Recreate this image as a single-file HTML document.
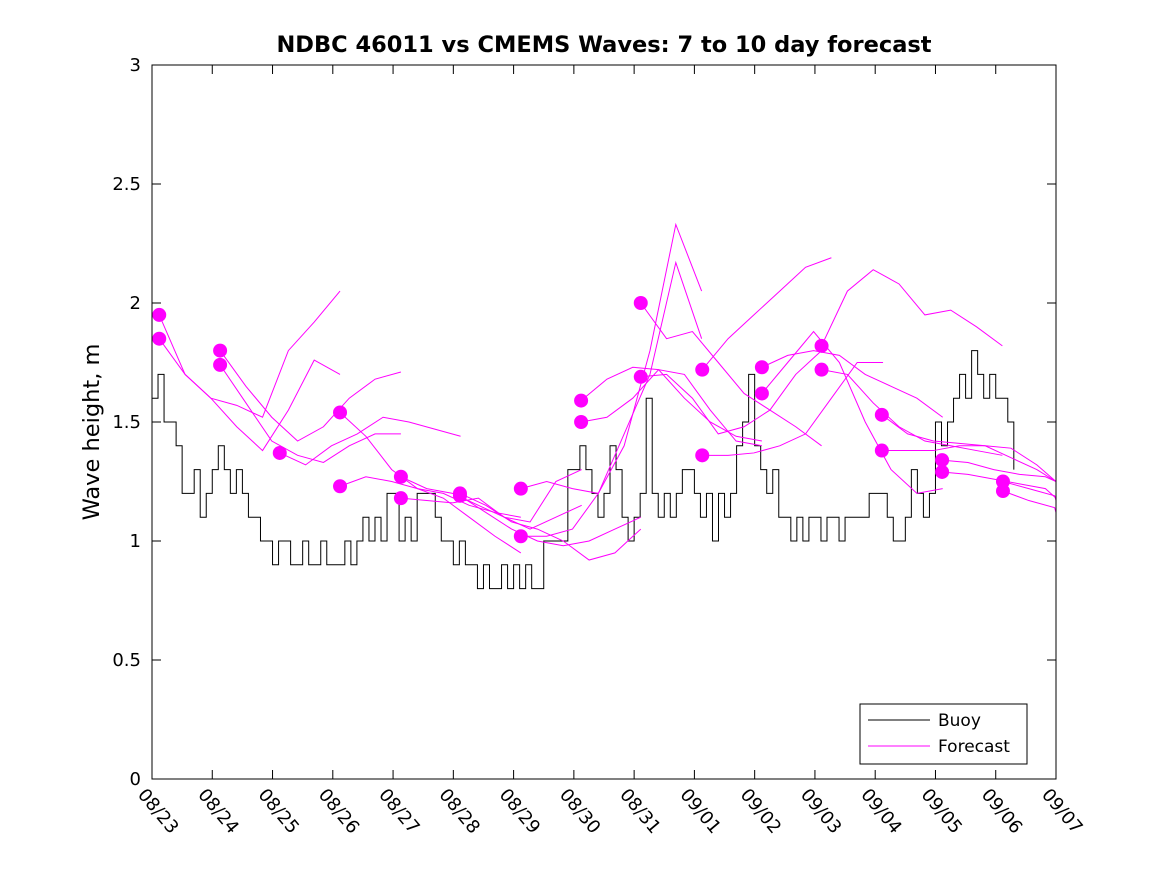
<!DOCTYPE html>
<html><head><meta charset="utf-8"><style>body{margin:0;background:#fff}svg{display:block;font-family:"DejaVu Sans","Liberation Sans",sans-serif}</style></head>
<body>
<svg id="chart" width="1167" height="875">
<rect width="1167" height="875" fill="#fff"/>
<text x="604" y="52" text-anchor="middle" font-size="22.5" font-weight="bold">NDBC 46011 vs CMEMS Waves: 7 to 10 day forecast</text>
<text transform="translate(99,432) rotate(-90)" text-anchor="middle" font-size="22.5">Wave height, m</text>
<g id="axes"></g>
<g id="marks"></g>
<rect x="152" y="65" width="904" height="714" fill="none" stroke="#000" stroke-width="1"/>
<g>
<rect x="860" y="704" width="167" height="60" fill="#fff" stroke="#000"/>
<line x1="868" y1="720" x2="930" y2="720" stroke="#000"/>
<text x="938" y="726" font-size="17">Buoy</text>
<line x1="868" y1="746" x2="930" y2="746" stroke="#f0f"/>
<text x="938" y="752" font-size="17">Forecast</text>
</g>
</svg>
<script>
const yTicks=[0,0.5,1,1.5,2,2.5,3];
const yTickLabels=["0","0.5","1","1.5","2","2.5","3"];
const xTickLabels=["08/23","08/24","08/25","08/26","08/27","08/28","08/29","08/30","08/31","09/01","09/02","09/03","09/04","09/05","09/06","09/07"];
const buoyStep=0.1;
const buoy=[1.6,1.7,1.5,1.5,1.4,1.2,1.2,1.3,1.1,1.2,
1.3,1.4,1.3,1.2,1.3,1.2,1.1,1.1,1.0,1.0,
0.9,1.0,1.0,0.9,0.9,1.0,0.9,0.9,1.0,0.9,
0.9,0.9,1.0,0.9,1.0,1.1,1.0,1.1,1.0,1.2,
1.2,1.0,1.1,1.0,1.2,1.2,1.2,1.1,1.0,1.0,
0.9,1.0,0.9,0.9,0.8,0.9,0.8,0.8,0.9,0.8,
0.9,0.8,0.9,0.8,0.8,1.0,1.0,1.0,1.0,1.3,
1.3,1.4,1.3,1.2,1.1,1.2,1.4,1.3,1.1,1.0,
1.1,1.2,1.6,1.2,1.1,1.2,1.1,1.2,1.3,1.3,
1.2,1.1,1.2,1.0,1.2,1.1,1.2,1.4,1.5,1.7,
1.4,1.3,1.2,1.3,1.1,1.1,1.0,1.1,1.0,1.1,
1.1,1.0,1.1,1.1,1.0,1.1,1.1,1.1,1.1,1.2,
1.2,1.2,1.1,1.0,1.0,1.1,1.3,1.2,1.1,1.2,
1.5,1.4,1.5,1.6,1.7,1.6,1.8,1.7,1.6,1.7,
1.6,1.6,1.5,1.3];
const fcStep=3/7;
const fcStart=[0.12,0.12,1.13,1.13,2.12,3.12,3.12,4.13,4.13,5.11,5.11,6.12,6.12,7.12,7.12,8.11,8.11,9.13,9.13,10.12,10.12,11.11,11.11,12.11,12.11,13.11,13.11,14.12,14.12];
const fcVals=[
[1.95,1.70,1.60,1.57,1.52,1.80,1.92,2.05],
[1.85,1.70,1.60,1.48,1.38,1.55,1.76,1.70],
[1.80,1.65,1.52,1.42,1.48,1.60,1.68,1.71],
[1.74,1.58,1.42,1.36,1.33,1.40,1.45,1.45],
[1.37,1.32,1.40,1.45,1.52,1.50,1.47,1.44],
[1.54,1.44,1.30,1.22,1.18,1.10,1.02,0.95],
[1.23,1.27,1.25,1.22,1.20,1.15,1.12,1.10],
[1.27,1.22,1.20,1.15,1.10,1.08,1.25,1.30],
[1.18,1.17,1.16,1.18,1.10,1.05,1.10,1.15],
[1.19,1.12,1.05,1.00,0.98,1.00,1.05,1.10],
[1.20,1.15,1.08,1.05,1.00,0.92,0.95,1.05],
[1.22,1.25,1.22,1.20,1.40,1.80,2.33,2.05],
[1.02,1.02,1.05,1.20,1.45,1.70,2.17,1.85],
[1.59,1.68,1.73,1.72,1.60,1.50,1.44,1.42],
[1.50,1.52,1.60,1.72,1.70,1.55,1.42,1.40],
[2.00,1.85,1.88,1.75,1.62,1.55,1.48,1.40],
[1.69,1.70,1.60,1.45,1.48,1.55,1.70,1.80],
[1.72,1.85,1.95,2.05,2.15,2.19],
[1.36,1.36,1.37,1.40,1.45,1.60,1.75,1.75],
[1.73,1.78,1.80,1.78,1.70,1.65,1.60,1.52],
[1.62,1.75,1.88,1.75,1.50,1.30,1.20,1.22],
[1.82,2.05,2.14,2.08,1.95,1.97,1.90,1.82],
[1.72,1.70,1.58,1.48,1.42,1.40,1.38,1.36],
[1.53,1.45,1.42,1.41,1.40,1.39,1.32,1.25],
[1.38,1.38,1.38,1.40,1.40,1.35,1.30,1.25],
[1.34,1.33,1.30,1.28,1.27,1.25,1.22,1.28],
[1.29,1.28,1.26,1.24,1.22,1.18,1.12,1.06],
[1.25,1.22,1.19,1.17],
[1.21,1.17,1.14,1.12]];
const NS="http://www.w3.org/2000/svg";
const X=d=>152+d*(904/15), Y=v=>779-v*238;
const axes=document.getElementById('axes'), marks=document.getElementById('marks');
function mk(tag,attrs,parent){const e=document.createElementNS(NS,tag);for(const k in attrs)e.setAttribute(k,attrs[k]);parent.appendChild(e);return e;}
yTicks.forEach((v,i)=>{
 const t=mk('path',{d:`M152 ${Y(v)}h9M1056 ${Y(v)}h-9`,stroke:'#000'},axes);
 
 
 const l=mk('text',{x:141,y:Y(v)+6,'text-anchor':'end','font-size':18},axes);
 l.textContent=yTickLabels[i];
 
 
});
xTickLabels.forEach((s,i)=>{
 const x=X(i);
 const t=mk('path',{d:`M${x} 779v-9M${x} 65v9`,stroke:'#000'},axes);
 
 
 const l=mk('text',{transform:`translate(${x-15},${795}) rotate(50)`,'font-size':18},axes);
 l.textContent=s;
 
 
});
let d='';
buoy.forEach((v,i)=>{const x=X(i*buoyStep);d+=(i?`L${x} ${Y(buoy[i-1])}L`:'M')+`${x} ${Y(v)}`;});
const bl=mk('path',{d:d,fill:'none',stroke:'#000','stroke-width':1},marks);


fcVals.forEach((vals,k)=>{
 const p=vals.map((v,i)=>`${i?'L':'M'}${Math.min(X(fcStart[k]+i*fcStep),1056)} ${Y(v)}`).join('');
 const l=mk('path',{d:p,fill:'none',stroke:'#f0f','stroke-width':1},marks);
 
 
});
fcVals.forEach((vals,k)=>{
 if(X(fcStart[k])>1056) return;
 const c=mk('circle',{cx:X(fcStart[k]),cy:Y(vals[0]),r:7,fill:'#f0f'},marks);
 
 
});
</script>
</body></html>
